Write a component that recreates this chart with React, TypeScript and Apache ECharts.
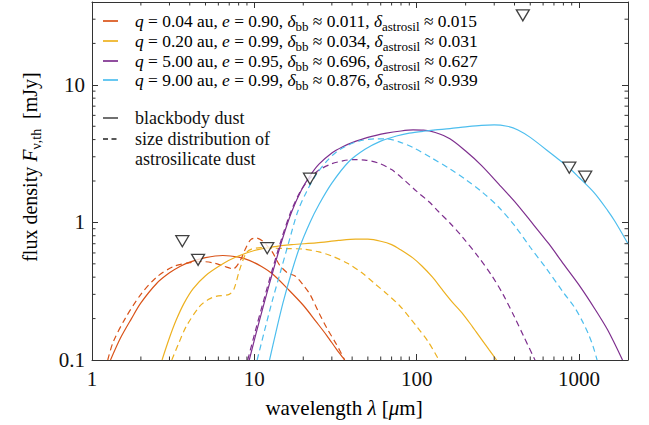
import React, { useEffect, useRef } from "react";
import * as echarts from "echarts";

const FONT = "'Liberation Serif', 'DejaVu Serif', serif";
const TXT = "#111";
const FRAME = "#333";

const C_RED = "#D95319";
const C_YEL = "#EDB120";
const C_PUR = "#7E2F8E";
const C_BLU = "#4DBEEE";

// q = 0.04 au — blackbody
const redBbLam = [1.3, 1.5, 1.75, 2, 2.5, 3, 3.5, 4, 5, 6.4, 8, 9.3, 11, 13, 16, 20, 24, 28, 32, 36];
const redBbF = [0.1, 0.145, 0.2, 0.26, 0.36, 0.43, 0.48, 0.515, 0.555, 0.575, 0.56, 0.53, 0.48, 0.42, 0.33, 0.25, 0.19, 0.15, 0.12, 0.1];
// q = 0.04 au — astrosilicate
const redSilLam = [1.25, 1.35, 1.6, 2, 2.5, 3.2, 4, 4.6, 5.5, 6.5, 7.4, 8.2, 8.8, 9.5, 10.3, 11.3, 12.2, 13, 14.3, 16, 18, 20, 22, 25, 28, 32, 36];
const redSilF = [0.1, 0.135, 0.2, 0.3, 0.4, 0.48, 0.51, 0.52, 0.51, 0.48, 0.46, 0.53, 0.64, 0.75, 0.77, 0.73, 0.66, 0.6, 0.49, 0.43, 0.405, 0.35, 0.3, 0.22, 0.17, 0.13, 0.1];

// q = 0.20 au
const yelBbLam = [2.7, 3.0, 3.3, 3.7, 4.2, 5, 6.4, 7.7, 10, 13, 17, 24, 33, 42, 50, 60, 70, 80, 95, 108, 125, 142, 165, 190, 220, 250, 280, 310];
const yelBbF = [0.1, 0.145, 0.195, 0.26, 0.33, 0.41, 0.5, 0.56, 0.625, 0.665, 0.69, 0.71, 0.74, 0.757, 0.755, 0.73, 0.69, 0.63, 0.55, 0.48, 0.4, 0.33, 0.265, 0.22, 0.175, 0.142, 0.118, 0.1];
const yelSilLam = [3.1, 3.4, 3.8, 4.6, 5.2, 5.8, 7.0, 7.5, 8.1, 8.9, 9.6, 11, 13, 16, 20, 25, 30, 38, 46, 55, 66, 78, 90, 100, 118, 137];
const yelSilF = [0.1, 0.13, 0.175, 0.245, 0.275, 0.29, 0.3, 0.33, 0.45, 0.6, 0.64, 0.655, 0.65, 0.645, 0.64, 0.61, 0.57, 0.5, 0.43, 0.36, 0.3, 0.25, 0.205, 0.175, 0.135, 0.1];

// q = 5.00 au
const purBbLam = [9.3, 10.3, 11.5, 13, 15, 17, 19.5, 22, 25, 30, 35, 40, 50, 65, 80, 95, 110, 130, 160, 200, 250, 320, 400, 500, 650, 800, 1000, 1250, 1500, 1850];
const purBbF = [0.1, 0.16, 0.26, 0.44, 0.78, 1.2, 1.72, 2.18, 2.65, 3.2, 3.55, 3.8, 4.15, 4.45, 4.62, 4.7, 4.68, 4.5, 4.05, 3.3, 2.6, 1.9, 1.42, 1.03, 0.7, 0.5, 0.35, 0.235, 0.165, 0.1];
const purSilLam = [9.1, 10.1, 11.3, 12.8, 14.8, 16.8, 19.3, 22, 25, 30, 35, 40, 48, 58, 70, 85, 100, 120, 136, 160, 190, 240, 290, 340, 400, 460, 535];
const purSilF = [0.1, 0.16, 0.26, 0.44, 0.78, 1.2, 1.7, 2.1, 2.4, 2.67, 2.8, 2.86, 2.84, 2.7, 2.42, 2.0, 1.68, 1.4, 1.2, 0.99, 0.79, 0.56, 0.41, 0.3, 0.205, 0.145, 0.1];

// q = 9.00 au
const bluBbLam = [12.4, 13.5, 15, 17, 19, 22, 25, 30, 38, 48, 60, 75, 90, 110, 130, 160, 200, 250, 300, 360, 420, 500, 700, 850, 1000, 1240, 1500, 1660, 2000];
const bluBbF = [0.1, 0.155, 0.26, 0.44, 0.66, 1.0, 1.35, 1.93, 2.75, 3.4, 3.9, 4.25, 4.45, 4.6, 4.7, 4.8, 4.95, 5.08, 5.12, 5.0, 4.7, 4.15, 3.05, 2.55, 2.12, 1.64, 1.22, 1.02, 0.7];
const bluSilLam = [10.4, 11.5, 12.9, 14.5, 16.3, 18.5, 21, 24, 28, 32, 37, 44, 55, 65, 78, 95, 123, 160, 200, 250, 318, 400, 500, 630, 800, 940, 1050, 1140, 1220, 1290];
const bluSilF = [0.1, 0.16, 0.27, 0.44, 0.72, 1.2, 1.68, 2.22, 2.8, 3.25, 3.6, 3.9, 4.05, 4.05, 3.85, 3.5, 2.95, 2.45, 2.05, 1.68, 1.3, 0.95, 0.66, 0.46, 0.31, 0.24, 0.19, 0.155, 0.125, 0.1];

// upper limits (observations)
const ulLam = [3.6, 4.5, 12, 22, 450, 870, 1090];
const ulF = [0.73, 0.535, 0.65, 2.08, 32, 2.5, 2.15];

const xMinorTicks = [2, 3, 4, 5, 6, 7, 8, 9, 20, 30, 40, 50, 60, 70, 80, 90, 200, 300, 400, 500, 600, 700, 800, 900];
const yMinorTicks = [0.2, 0.3, 0.4, 0.5, 0.6, 0.7, 0.8, 0.9, 2, 3, 4, 5, 6, 7, 8, 9, 20, 30];

const legendRows = [
  { color: C_RED, q: "0.04", e: "0.90", bb: "0.011", sil: "0.015" },
  { color: C_YEL, q: "0.20", e: "0.99", bb: "0.034", sil: "0.031" },
  { color: C_PUR, q: "5.00", e: "0.95", bb: "0.696", sil: "0.627" },
  { color: C_BLU, q: "9.00", e: "0.99", bb: "0.876", sil: "0.939" },
];

const zip = (a: number[], b: number[]) => a.map((v, i) => [v, b[i]]);

const isPow10 = (v: number) => {
  const l = Math.log10(v);
  return Math.abs(l - Math.round(l)) < 1e-6;
};

const rich = (fs: number) => ({
  n: { fontFamily: FONT, fontSize: fs, color: TXT, lineHeight: fs + 6 },
  i: { fontFamily: FONT, fontSize: fs, color: TXT, fontStyle: "italic", lineHeight: fs + 6 },
  s: { fontFamily: FONT, fontSize: Math.round(fs * 0.72), color: TXT, lineHeight: Math.round(fs * 0.72) + 2, verticalAlign: "bottom" },
});

export default function App() {
  const ref = useRef<HTMLDivElement>(null);
  useEffect(() => {
    const chart = echarts.init(ref.current!, null, { renderer: "svg" });

    const lineSeries = (data: number[][], color: string, dashed: boolean) => ({
      type: "line",
      data,
      showSymbol: false,
      smooth: 0.3,
      clip: true,
      lineStyle: { color, width: 1.2, type: dashed ? [6, 4] : "solid" },
      itemStyle: { color },
      z: 3,
    });

    const minorX = {
      type: "custom",
      data: xMinorTicks.map((v) => [v, 1]),
      z: 5,
      silent: true,
      renderItem: (params: any, api: any) => {
        const cs = params.coordSys;
        const x = api.coord([api.value(0), 1])[0];
        const b = cs.y + cs.height;
        return {
          type: "group",
          children: [
            { type: "line", shape: { x1: x, y1: b, x2: x, y2: b - 3.5 }, style: { stroke: FRAME, lineWidth: 1 } },
            { type: "line", shape: { x1: x, y1: cs.y, x2: x, y2: cs.y + 3.5 }, style: { stroke: FRAME, lineWidth: 1 } },
          ],
        };
      },
    };
    const minorY = {
      type: "custom",
      data: yMinorTicks.map((v) => [10, v]),
      z: 5,
      silent: true,
      renderItem: (params: any, api: any) => {
        const cs = params.coordSys;
        const y = api.coord([10, api.value(1)])[1];
        const r = cs.x + cs.width;
        return {
          type: "group",
          children: [
            { type: "line", shape: { x1: cs.x, y1: y, x2: cs.x + 3.5, y2: y }, style: { stroke: FRAME, lineWidth: 1 } },
            { type: "line", shape: { x1: r, y1: y, x2: r - 3.5, y2: y }, style: { stroke: FRAME, lineWidth: 1 } },
          ],
        };
      },
    };

    const graphics: any[] = [];
    const rowY = [21, 41, 61, 80];
    legendRows.forEach((r, k) => {
      graphics.push({
        type: "line",
        shape: { x1: 103, y1: rowY[k], x2: 118, y2: rowY[k] },
        style: { stroke: r.color, lineWidth: 2, opacity: 0.85 },
      });
      graphics.push({
        type: "text",
        x: 135,
        y: rowY[k],
        style: {
          text: `{i|q}{n| = ${r.q} au, }{i|e}{n| = ${r.e}, }{i|δ}{s|bb}{n| ≈ ${r.bb}, }{i|δ}{s|astrosil}{n| ≈ ${r.sil}}`,
          rich: rich(17.4),
          verticalAlign: "middle",
          align: "left",
        },
      });
    });
    const l2 = [
      { y: 118, dashed: false, text: "blackbody dust" },
      { y: 139, dashed: true, text: "size distribution of" },
      { y: 159, dashed: null, text: "astrosilicate dust" },
    ];
    l2.forEach((r) => {
      if (r.dashed !== null) {
        graphics.push({
          type: "line",
          shape: { x1: 103, y1: r.y, x2: 118, y2: r.y },
          style: { stroke: "#222", lineWidth: 1.3, lineDash: r.dashed ? [5, 3.5] : null },
        });
      }
      graphics.push({
        type: "text",
        x: 135,
        y: r.y,
        style: { text: r.text, fontFamily: FONT, fontSize: 18, fill: TXT, verticalAlign: "middle", align: "left" },
      });
    });
    graphics.push({
      type: "text",
      x: 344,
      y: 408,
      style: {
        text: "{n|wavelength }{i|λ}{n| [}{i|μ}{n|m]}",
        rich: rich(21),
        align: "center",
        verticalAlign: "middle",
      },
    });
    graphics.push({
      type: "text",
      x: 30,
      y: 167,
      rotation: Math.PI / 2,
      style: {
        text: "{n|flux density }{i|F}{s|ν,th}{n|  [mJy]}",
        rich: rich(20),
        align: "center",
        verticalAlign: "middle",
      },
    });

    const axisCommon = {
      type: "log",
      logBase: 10,
      axisLine: { show: true, lineStyle: { color: FRAME, width: 1 } },
      axisTick: { show: true, inside: true, length: 6, lineStyle: { color: FRAME, width: 1 } },
      splitLine: { show: false },
      minorTick: { show: false },
    };

    chart.setOption({
      animation: false,
      backgroundColor: "#fff",
      textStyle: { fontFamily: FONT },
      grid: { left: 92, right: 21, top: 2, bottom: 65, containLabel: false },
      xAxis: [
        {
          ...axisCommon,
          min: 1,
          max: 2000,
          position: "bottom",
          axisLabel: {
            fontFamily: FONT,
            fontSize: 21,
            color: TXT,
            margin: 8,
            formatter: (v: number) => (isPow10(v) ? String(+v.toPrecision(3)) : ""),
          },
        },
        { ...axisCommon, min: 1, max: 2000, position: "top", axisLabel: { show: false } },
      ],
      yAxis: [
        {
          ...axisCommon,
          min: 0.1,
          max: 40,
          position: "left",
          axisLabel: {
            fontFamily: FONT,
            fontSize: 21,
            color: TXT,
            margin: 7,
            formatter: (v: number) => (isPow10(v) ? String(+v.toPrecision(3)) : ""),
          },
        },
        { ...axisCommon, min: 0.1, max: 40, position: "right", axisLabel: { show: false } },
      ],
      series: [
        lineSeries(zip(redBbLam, redBbF), C_RED, false),
        lineSeries(zip(redSilLam, redSilF), C_RED, true),
        lineSeries(zip(yelBbLam, yelBbF), C_YEL, false),
        lineSeries(zip(yelSilLam, yelSilF), C_YEL, true),
        lineSeries(zip(purBbLam, purBbF), C_PUR, false),
        lineSeries(zip(purSilLam, purSilF), C_PUR, true),
        lineSeries(zip(bluBbLam, bluBbF), C_BLU, false),
        lineSeries(zip(bluSilLam, bluSilF), C_BLU, true),
        {
          type: "scatter",
          data: zip(ulLam, ulF),
          symbol: "triangle",
          symbolRotate: 180,
          symbolSize: [13, 11],
          itemStyle: { color: "#fff", borderColor: "#111", borderWidth: 1.3 },
          z: 10,
        },
        minorX,
        minorY,
      ],
      graphic: graphics,
    });
    return () => chart.dispose();
  }, []);
  return <div ref={ref} style={{ position: "absolute", left: 0, top: 0, width: 649, height: 425 }} />;
}
